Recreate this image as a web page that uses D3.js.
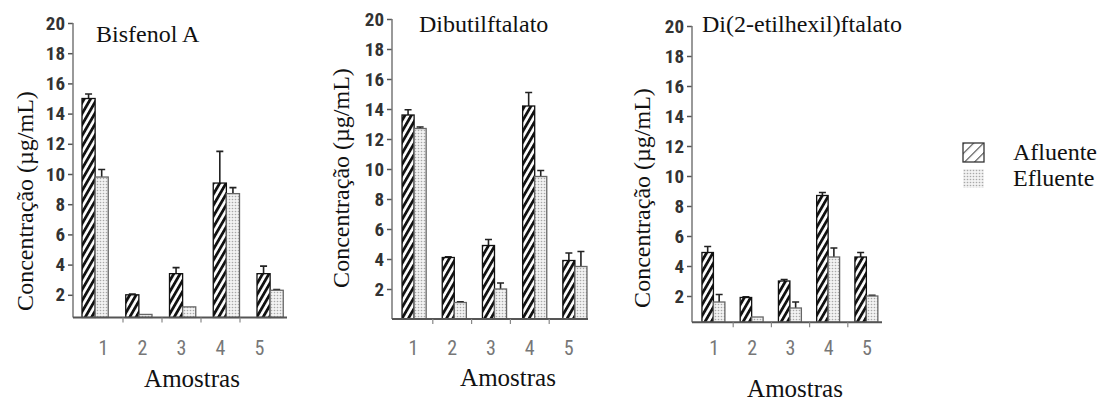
<!DOCTYPE html>
<html lang="pt">
  <head>
    <meta charset="UTF-8" />
    <title>Concentração nas amostras</title>
    <script src="https://d3js.org/d3.v7.min.js"></script>
    <style>
      body { margin: 0; background: #fff; }
      svg { display: block; }
    </style>
  </head>
  <body>
    <svg width="1110" height="409">
      <defs>
        <pattern id="hatch" patternUnits="userSpaceOnUse" width="5.5" height="20" patternTransform="rotate(30)">
          <rect width="5.5" height="20" fill="#fff" />
          <rect width="2.8" height="20" fill="#111" />
        </pattern>
        <pattern id="dots" patternUnits="userSpaceOnUse" width="3" height="3">
          <rect width="3" height="3" fill="#f2f2f2" />
          <circle cx="1.5" cy="1.5" r="0.8" fill="#a8a8a8" />
        </pattern>
        <pattern id="hatchLegend" patternUnits="userSpaceOnUse" width="7" height="7" patternTransform="rotate(45)">
          <rect width="7" height="7" fill="#fff" />
          <rect width="1.2" height="7" fill="#555" />
        </pattern>
      </defs>
    </svg>
    <script>
      let svg = d3.select("svg");

      // data
      const samples = ["1", "2", "3", "4", "5"];
      const series = ["Afluente", "Efluente"];
      const yTicks = [2, 4, 6, 8, 10, 12, 14, 16, 18, 20];
      const titles = ["Bisfenol A", "Dibutilftalato", "Di(2-etilhexil)ftalato"];

      const bpaAfluente = [15.0, 2.0, 3.4, 9.4, 3.4];
      const bpaAfluenteErr = [0.3, 0.05, 0.4, 2.1, 0.5];
      const bpaEfluente = [9.8, 0.7, 1.2, 8.7, 2.3];
      const bpaEfluenteErr = [0.5, 0, 0, 0.4, 0.05];

      const dbpAfluente = [13.6, 4.1, 4.9, 14.2, 3.9];
      const dbpAfluenteErr = [0.35, 0.05, 0.4, 0.9, 0.5];
      const dbpEfluente = [12.7, 1.1, 2.0, 9.5, 3.5];
      const dbpEfluenteErr = [0.1, 0.05, 0.4, 0.4, 1.0];

      const dehpAfluente = [4.9, 1.9, 3.0, 8.7, 4.6];
      const dehpAfluenteErr = [0.4, 0.05, 0.1, 0.2, 0.3];
      const dehpEfluente = [1.6, 0.6, 1.2, 4.6, 2.0];
      const dehpEfluenteErr = [0.5, 0, 0.4, 0.6, 0.05];

      const SERIF = "'Liberation Serif', serif";
      const NARROW = "'Roboto Condensed', sans-serif";

      // layout of each little chart
      let panels = [
        {
          values: [bpaAfluente, bpaEfluente], errors: [bpaAfluenteErr, bpaEfluenteErr],
          axisX: 73, y0: 325, y20: 23, yMin: 0.5, band: [73.25, 292], axisEnd: 287,
          labelBand: [84, 279], titleX: 96, titleY: 42, yTitle: [25, 201], amostras: [192, 387]
        },
        {
          values: [dbpAfluente, dbpEfluente], errors: [dbpAfluenteErr, dbpEfluenteErr],
          axisX: 392, y0: 319, y20: 19, yMin: 0, band: [394, 595], axisEnd: 588,
          labelBand: [394, 588], titleX: 419, titleY: 32, yTitle: [341, 178], amostras: [508, 386]
        },
        {
          values: [dehpAfluente, dehpEfluente], errors: [dehpAfluenteErr, dehpEfluenteErr],
          axisX: 692, y0: 326, y20: 26, yMin: 0.25, band: [694.3, 885.5], axisEnd: 882,
          labelBand: [695, 886], titleX: 702, titleY: 32, yTitle: [642, 198], amostras: [795, 397]
        }
      ];

      let fills = { Afluente: "url(#hatch)", Efluente: "url(#dots)" };
      let strokes = { Afluente: "#111", Efluente: "#666" };

      function serifText(sel, size) {
        return sel
          .style("font-family", SERIF)
          .style("font-size", size + "px")
          .attr("fill", "#111");
      }

      panels.forEach((p, i) => {
        let g = svg.append("g");
        let y = d3.scaleLinear().domain([0, 20]).range([p.y0, p.y20]);
        let x = d3.scaleBand().domain(samples).range(p.band).paddingInner(0.4).paddingOuter(0.2);
        let xs = d3.scaleBand().domain(series).range([0, x.bandwidth()]);
        let xl = d3.scaleBand().domain(samples).range(p.labelBand);
        let base = y(p.yMin);

        // bars
        let rows = [];
        samples.forEach((s, j) => {
          series.forEach((k, n) => {
            rows.push({ s: s, k: k, v: p.values[n][j], e: p.errors[n][j] });
          });
        });

        let bars = g.append("g").selectAll("g").data(rows).enter().append("g");

        bars
          .filter((d) => d.e > 0)
          .append("path")
          .attr("d", (d) => {
            let cx = x(d.s) + xs(d.k) + xs.bandwidth() / 2;
            return "M" + cx + "," + y(d.v) + "V" + y(d.v + d.e) + "M" + (cx - 3.5) + "," + y(d.v + d.e) + "H" + (cx + 3.5);
          })
          .attr("stroke", "#222")
          .attr("stroke-width", 1.6)
          .attr("fill", "none");

        bars
          .append("rect")
          .attr("x", (d) => x(d.s) + xs(d.k))
          .attr("width", xs.bandwidth())
          .attr("y", (d) => y(d.v))
          .attr("height", (d) => base - y(d.v))
          .attr("fill", (d) => fills[d.k])
          .attr("stroke", (d) => strokes[d.k])
          .attr("stroke-width", 1.3);

        // y axis
        let ya = g
          .append("g")
          .attr("transform", "translate(" + p.axisX + ",0)")
          .call(d3.axisLeft(y).tickValues(yTicks).tickSize(5).tickPadding(3));
        ya.select(".domain").remove();
        ya.selectAll("line").attr("stroke", "#555").attr("stroke-width", 1.5);
        ya.selectAll("text")
          .style("font-family", NARROW)
          .style("font-weight", "bold")
          .style("font-size", "19px")
          .attr("fill", "#333");
        g.append("line")
          .attr("x1", p.axisX).attr("x2", p.axisX)
          .attr("y1", y(20)).attr("y2", base)
          .attr("stroke", "#777").attr("stroke-width", 1.5);

        // x axis
        g.append("line")
          .attr("x1", p.axisX).attr("x2", p.axisEnd)
          .attr("y1", base).attr("y2", base)
          .attr("stroke", "#555").attr("stroke-width", 2);
        g.append("g")
          .selectAll("line")
          .data(samples.slice(1))
          .enter()
          .append("line")
          .attr("x1", (d) => xl(d)).attr("x2", (d) => xl(d))
          .attr("y1", base).attr("y2", base + 5)
          .attr("stroke", "#888").attr("stroke-width", 1.2);
        g.append("g")
          .selectAll("text")
          .data(samples)
          .enter()
          .append("text")
          .attr("x", (d) => xl(d) + xl.bandwidth() / 2)
          .attr("y", 355)
          .attr("text-anchor", "middle")
          .style("font-family", NARROW)
          .style("font-size", "20px")
          .attr("fill", "#777")
          .text((d) => d);

        // texts
        serifText(g.append("text"), 24)
          .attr("x", p.titleX).attr("y", p.titleY)
          .text(titles[i]);
        serifText(g.append("text"), 24)
          .attr("transform", "translate(" + p.yTitle[0] + "," + p.yTitle[1] + ") rotate(-90)")
          .attr("dy", "0.35em")
          .attr("text-anchor", "middle")
          .text("Concentração (µg/mL)");
        serifText(g.append("text"), 25)
          .attr("x", p.amostras[0]).attr("y", p.amostras[1])
          .attr("text-anchor", "middle")
          .text("Amostras");
      });

      // legend
      let legend = svg.append("g").selectAll("g").data(series).enter().append("g")
        .attr("transform", (d, i) => "translate(963," + (143 + i * 26) + ")");
      legend.append("rect")
        .attr("width", 21).attr("height", 19)
        .attr("fill", (d) => (d === "Afluente" ? "url(#hatchLegend)" : "url(#dots)"))
        .attr("stroke", (d) => (d === "Afluente" ? "#333" : "none"))
        .attr("stroke-width", 1.3);
      serifText(legend.append("text"), 24)
        .attr("x", 50).attr("y", 17)
        .text((d) => d);
    </script>
  </body>
</html>
